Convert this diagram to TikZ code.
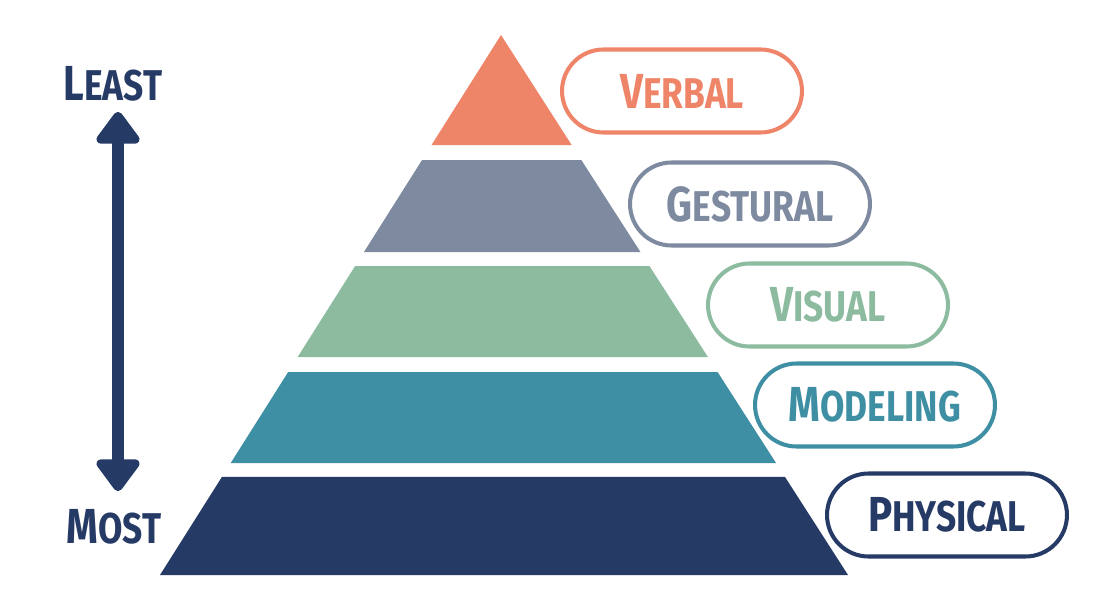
\documentclass[tikz,border=0pt]{standalone}
\usepackage{fontspec}
\usepackage{tikz}
\usetikzlibrary{arrows.meta,positioning,shapes.misc,calc}
\newfontfamily\pillfont{Fira Sans}[FakeStretch=0.82]
\definecolor{verbalc}{HTML}{EE8468}
\definecolor{gesturalc}{HTML}{7E8AA0}
\definecolor{visualc}{HTML}{8DBBA0}
\definecolor{modelingc}{HTML}{3E8FA3}
\definecolor{physicalc}{HTML}{263A66}
\newcommand{\capword}[2]{{\fontsize{28}{28}\selectfont #1}{\fontsize{24.5}{24.5}\selectfont #2}}
\tikzset{
  pill/.style={rounded rectangle,draw=#1,text=#1,fill=white,line width=2.3pt,
               minimum width=4.8cm,minimum height=1.66cm,inner sep=0pt,
               font=\pillfont\bfseries},
  endlabel/.style={text=physicalc,inner sep=0pt,font=\pillfont\bfseries},
  bigarr/.style={{Triangle[length=20pt,width=28pt,round]}-{Triangle[length=20pt,width=28pt,round]},
                 line width=6.8pt,color=physicalc}
}

\begin{document}
\begin{tikzpicture}[x=0.02cm,y=-0.02cm]
  \useasboundingbox (0,0) rectangle (1099,615);
  % ---- the pyramid, cut into five bands ----
  \coordinate (apex) at (501,35);
  \coordinate (bl) at (160,575);
  \coordinate (br) at (848,575);
  \foreach \ta/\tb/\col in {0/0.2037/verbalc,0.2315/0.4019/gesturalc,
      0.4278/0.5963/visualc,0.6241/0.7926/modelingc,0.8185/1/physicalc}{
    \fill[\col] ($(apex)!\ta!(bl)$) -- ($(apex)!\tb!(bl)$)
      -- ($(apex)!\tb!(br)$) -- ($(apex)!\ta!(br)$) -- cycle;
  }
  % ---- the labels ----
  \node[pill=verbalc] (verbal) at (682,91) {\capword{V}{ERBAL}};
  \node[pill=gesturalc] (gestural) at (750,204) {\capword{G}{ESTURAL}};
  \node[pill=visualc] (visual) at (828,305) {\capword{V}{ISUAL}};
  \node[pill=modelingc] (modeling) at (875,405) {\capword{M}{ODELING}};
  \node[pill=physicalc] (physical) at (947,515) {\capword{P}{HYSICAL}};
  % ---- least / most scale ----
  \node[endlabel] (least) at (113,84) {\capword{L}{EAST}};
  \node[endlabel] (most) at (114,527) {\capword{M}{OST}};
  \draw[bigarr] ([xshift=5*0.02cm,yshift=-10*0.02cm]least.south)
    -- ([xshift=4*0.02cm,yshift=18*0.02cm]most.north);
\end{tikzpicture}
\end{document}
